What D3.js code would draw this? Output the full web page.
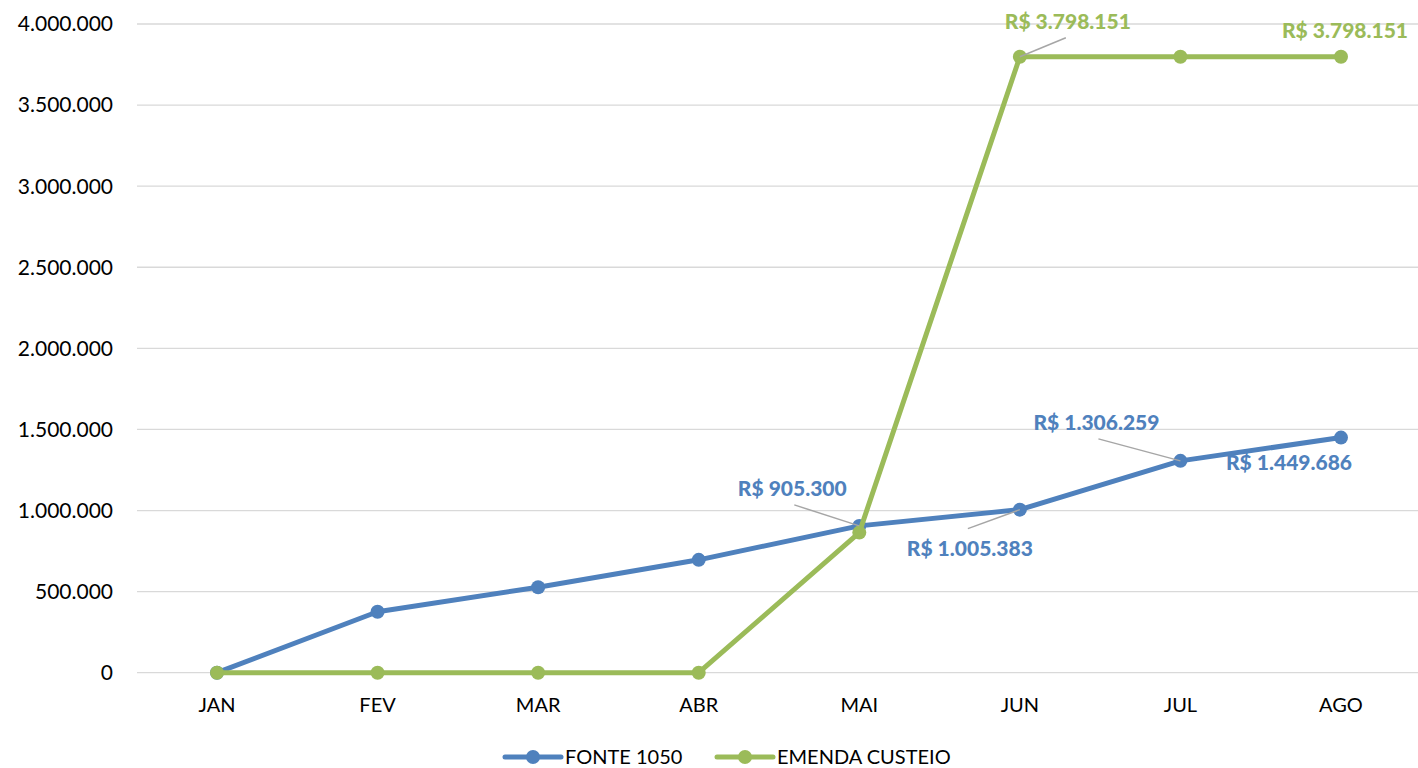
<!DOCTYPE html>
<html><head><meta charset="utf-8">
<script src="https://cdn.jsdelivr.net/npm/d3@7/dist/d3.min.js"></script>
<style>body{margin:0;background:#fff}svg{display:block}text{font-family:Lato,"Open Sans",sans-serif}</style>
</head><body><svg id="c" width="1418" height="768"></svg>
<script>
const months = ["JAN","FEV","MAR","ABR","MAI","JUN","JUL","AGO"];
const fonte1050 = [0, 376000, 527000, 696000, 905300, 1005383, 1306259, 1449686];
const emendaCusteio = [0, 0, 0, 0, 864000, 3798151, 3798151, 3798151];
const yTicks = [0, 500000, 1000000, 1500000, 2000000, 2500000, 3000000, 3500000, 4000000];
const seriesNames = ["FONTE 1050", "EMENDA CUSTEIO"];
// labelled points: [series index, month index]
const labelled = [[0,4],[0,5],[0,6],[0,7],[1,5],[1,7]];

// label placement (offsets from point, leader line)
const labelStyle = {
  "0-4": {dx:-67, dy:-37, leader:true},
  "0-5": {dx:-50, dy:39, leader:true},
  "0-6": {dx:-84, dy:-38, leader:true},
  "0-7": {dx:-52, dy:25, leader:false},
  "1-5": {dx:48, dy:-35, leader:true},
  "1-7": {dx:4, dy:-26, leader:false}
};

const colors = ["#4F81BD", "#9BBB59"];
const svg = d3.select("#c");
const x = d3.scalePoint().domain(months).range([217, 1341]);
const y = d3.scaleLinear().domain([0, 4000000]).range([672.7, 24]);
const loc = d3.formatLocale({decimal:",", thousands:".", grouping:[3], currency:["R$ ",""]});
const fmt = loc.format(",.0f");
const money = loc.format("$,.0f");

// grid
svg.append("g").selectAll("line").data(yTicks).join("line")
  .attr("x1",137).attr("x2",1418).attr("y1",d=>y(d)).attr("y2",d=>y(d))
  .attr("stroke","#d9d9d9").attr("stroke-width",1.3);
// y labels
svg.append("g").selectAll("text").data(yTicks).join("text")
  .attr("x",113).attr("y",d=>y(d)).attr("dy","0.35em").attr("text-anchor","end")
  .attr("font-size",21).attr("fill","#000").text(d=>fmt(d));
// x labels
svg.append("g").selectAll("text").data(months).join("text")
  .attr("x",d=>x(d)).attr("y",705).attr("dy","0.35em").attr("text-anchor","middle")
  .attr("font-size",20).attr("fill","#000").text(d=>d);

const data = [fonte1050, emendaCusteio];
const line = d3.line().x((d,i)=>x(months[i])).y(d=>y(d));
data.forEach((s,k)=>{
  const g = svg.append("g");
  g.append("path").attr("d",line(s)).attr("fill","none").attr("stroke",colors[k])
    .attr("stroke-width",5).attr("stroke-linejoin","round");
  g.selectAll("circle").data(s).join("circle")
    .attr("cx",(d,i)=>x(months[i])).attr("cy",d=>y(d)).attr("r",7).attr("fill",colors[k]);
});

// labels
labelled.forEach(([k,i])=>{
  const st = labelStyle[k+"-"+i];
  const px = x(months[i]), py = y(data[k][i]);
  const lx = px+st.dx, ly = py+st.dy;
  if (st.leader) {
    let ex, ey;
    if (st.dy < 0) { ex = lx - 2*Math.sign(st.dx); ey = ly + 16; }
    else { ex = lx - 2; ey = ly - 20; }
    svg.append("line").attr("x1",ex).attr("y1",ey).attr("x2",px).attr("y2",py)
      .attr("stroke","#a6a6a6").attr("stroke-width",1.5);
  }
  svg.append("text").attr("x",lx).attr("y",ly).attr("dy","0.35em").attr("text-anchor","middle")
    .attr("font-size",21).attr("font-weight","900").attr("fill",colors[k]).text(money(data[k][i]));
});

// legend
const leg = svg.append("g");
const legX = [505, 717];
seriesNames.forEach((n,k)=>{
  const g = leg.append("g").attr("transform",`translate(${legX[k]},757)`);
  g.append("line").attr("x1",0).attr("x2",56).attr("stroke",colors[k]).attr("stroke-width",5).attr("stroke-linecap","round");
  g.append("circle").attr("cx",28).attr("r",7).attr("fill",colors[k]);
  g.append("text").attr("x",60).attr("dy","0.35em").attr("font-size",20).attr("fill","#000").text(n);
});
</script></body></html>
